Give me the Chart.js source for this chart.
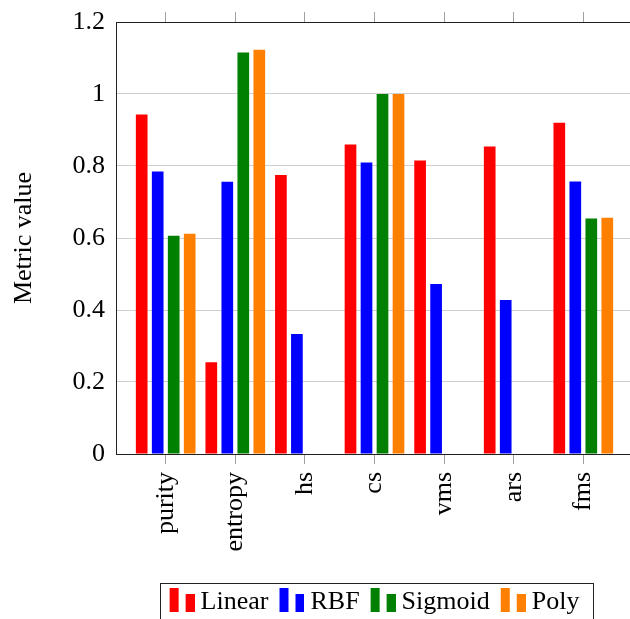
<!DOCTYPE html>
<html>
<head>
<meta charset="utf-8">
<script src="https://cdn.jsdelivr.net/npm/chart.js@4.4.1/dist/chart.umd.min.js"></script>
<style>
  html, body { margin: 0; padding: 0; overflow: hidden; background: #fff; }
  #wrap { width: 630px; height: 619px; overflow: hidden; }
  canvas { display: block; }
</style>
</head>
<body>
<div id="wrap"><canvas id="c" width="749" height="625"></canvas></div>
<script>
const categories = ['purity', 'entropy', 'hs', 'cs', 'vms', 'ars', 'fms'];
const seriesNames = ['Linear', 'RBF', 'Sigmoid', 'Poly'];
const linearVals  = [0.943, 0.255, 0.775, 0.860, 0.815, 0.854, 0.920];
const rbfVals     = [0.785, 0.756, 0.333, 0.810, 0.472, 0.428, 0.757];
const sigmoidVals = [0.606, 1.115, 0.000, 1.000, 0.000, 0.000, 0.654];
const polyVals    = [0.612, 1.123, 0.000, 1.000, 0.000, 0.000, 0.656];
const yTickValues = [0, 0.2, 0.4, 0.6, 0.8, 1, 1.2];
const colors = ['#ff0000', '#0000ff', '#008000', '#ff8000'];

const FONT = "'Liberation Serif', 'Times New Roman', serif";

function makeMarker(color) {
  const c = document.createElement('canvas');
  c.width = 32; c.height = 28;
  const g = c.getContext('2d');
  g.fillStyle = color;
  g.fillRect(7, 0, 9, 24);
  g.fillRect(23, 6, 9, 18);
  return c;
}

const allVals = [linearVals, rbfVals, sigmoidVals, polyVals];
const datasets = allVals.map((vals, k) => ({
  label: seriesNames[k],
  data: categories.map((c, i) => ({ x: i, y: vals[i] })),
  backgroundColor: colors[k],
  borderWidth: 0,
  categoryPercentage: 0.9195,
  barPercentage: 0.73,
  xAxisID: 'x',
  yAxisID: 'y'
}));

const XMIN = -0.714, XMAX = categories.length - 1 + 0.714;

const legendBox = {
  id: 'legendBox',
  afterDraw(chart) {
    const lg = chart.legend;
    if (!lg || !lg.legendHitBoxes || !lg.legendHitBoxes.length) return;
    const hb = lg.legendHitBoxes;
    const first = hb[0], last = hb[hb.length - 1];
    const cy = first.top + first.height / 2;
    const ctx = chart.ctx;
    ctx.save();
    ctx.strokeStyle = '#222';
    ctx.lineWidth = 1;
    const l = Math.round(first.left - 10) + 0.5;
    const r = Math.round(last.left + last.width + 14) + 0.5;
    const t = Math.round(cy - 19) + 0.5;
    ctx.strokeRect(l, t, r - l, 60);
    ctx.restore();
  }
};

new Chart(document.getElementById('c'), {
  type: 'bar',
  data: { datasets },
  plugins: [legendBox],
  options: {
    responsive: false,
    animation: false,
    devicePixelRatio: 1,
    layout: { padding: 0 },
    plugins: {
      tooltip: { enabled: false },
      legend: {
        position: 'bottom',
        labels: {
          usePointStyle: true,
          pointStyleWidth: 18,
          padding: 11,
          color: '#000',
          font: { family: FONT, size: 26 },
          generateLabels: (chart) => chart.data.datasets.map((ds, i) => ({
            text: ds.label,
            fillStyle: ds.backgroundColor,
            strokeStyle: ds.backgroundColor,
            lineWidth: 0,
            pointStyle: makeMarker(ds.backgroundColor),
            datasetIndex: i,
            hidden: false,
            fontColor: '#000'
          }))
        }
      }
    },
    scales: {
      x: {
        type: 'linear',
        position: 'bottom',
        offset: false,
        min: XMIN, max: XMAX,
        afterFit: (s) => { s.height = 124; },
        ticks: {
          stepSize: 1,
          includeBounds: false,
          autoSkip: false,
          minRotation: 90, maxRotation: 90,
          padding: 8,
          color: '#000',
          font: { family: FONT, size: 26 },
          callback: (v) => (Number.isInteger(v) && categories[v] !== undefined) ? categories[v] : ''
        },
        grid: { offset: false, drawOnChartArea: false, drawTicks: true, tickLength: 10, color: '#a0a0a0' },
        border: { color: '#222', width: 1 }
      },
      x2: {
        type: 'linear',
        position: 'top',
        offset: false,
        min: XMIN, max: XMAX,
        afterFit: (s) => { s.height = 22; },
        ticks: { stepSize: 1, includeBounds: false, display: false },
        grid: { offset: false, drawOnChartArea: false, drawTicks: true, tickLength: 10, color: '#a0a0a0' },
        border: { color: '#222', width: 1 }
      },
      y: {
        type: 'linear',
        position: 'left',
        min: 0, max: 1.2,
        afterFit: (s) => { s.width = 116; s.paddingTop = 0; s.paddingBottom = 0; },
        afterBuildTicks: (s) => { s.ticks = yTickValues.map(v => ({ value: v })); },
        ticks: {
          padding: 11,
          color: '#000',
          font: { family: FONT, size: 26 },
          callback: (v) => String(+Number(v).toFixed(1))
        },
        grid: { color: '#cfcfcf', drawTicks: false },
        border: { color: '#222', width: 1 },
        title: {
          display: true,
          text: 'Metric value',
          color: '#000',
          font: { family: FONT, size: 26 },
          padding: { top: 9, bottom: 0 }
        }
      },
      y2: {
        type: 'linear',
        position: 'right',
        display: true,
        afterFit: (s) => { s.width = 116; s.paddingTop = 0; s.paddingBottom = 0; },
        ticks: { display: false },
        grid: { display: false, drawTicks: false },
        border: { display: false }
      }
    }
  }
});
</script>
</body>
</html>
